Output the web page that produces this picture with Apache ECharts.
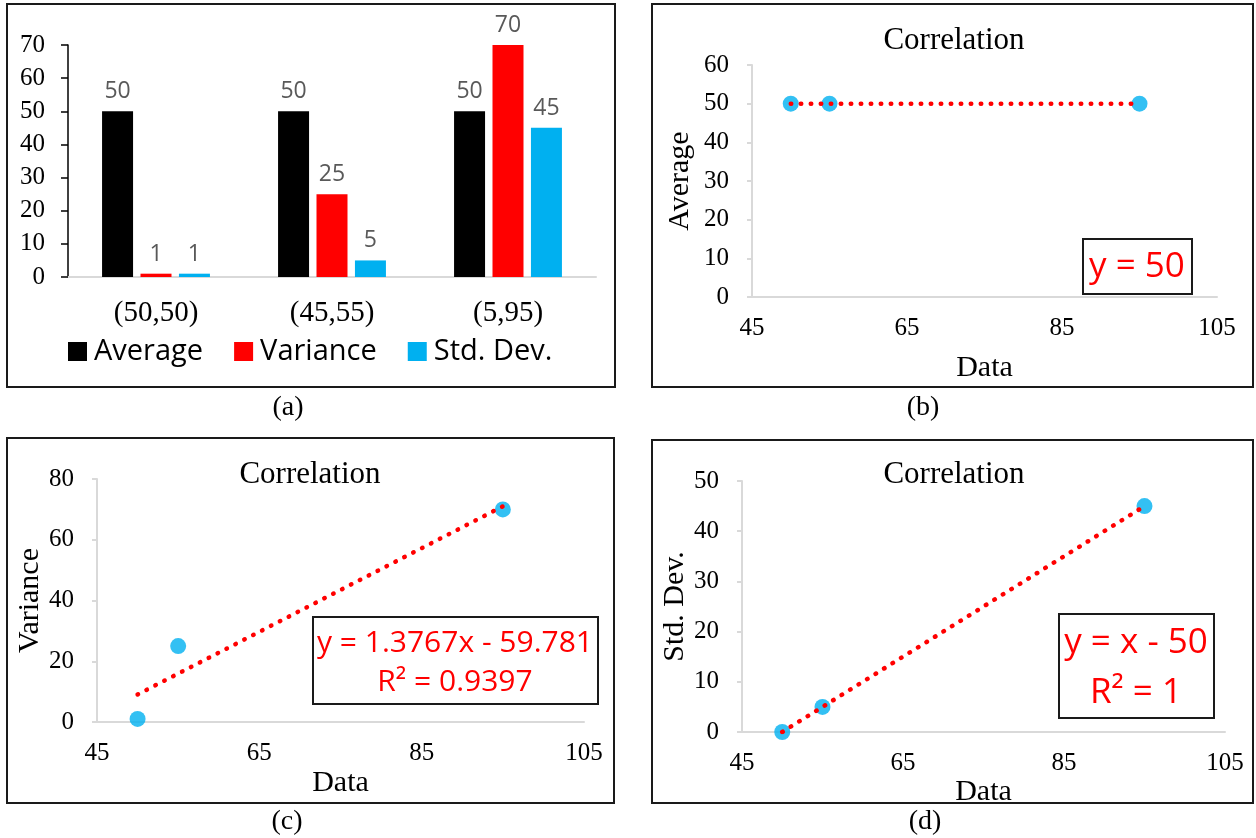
<!DOCTYPE html>
<html>
<head>
<meta charset="utf-8">
<script src="https://cdn.jsdelivr.net/npm/echarts@6/dist/echarts.min.js"></script>
<style>
html,body{margin:0;padding:0;background:#fff;}
#c{width:1256px;height:838px;}
</style>
</head>
<body>
<div id="c"></div>
<script>
// ---- data ----
const categories = ['(50,50)', '(45,55)', '(5,95)'];
const averageVals = [50, 50, 50];
const varianceVals = [1, 25, 70];
const stdDevVals = [1, 5, 45];

const dataX = [50, 55, 95];
const avgY = [50, 50, 50];
const varY = [1, 25, 70];
const stdY = [0, 5, 45];

const trendAvg = [[50, 50], [95, 50]];
const trendVar = [[50, 9.05], [95, 71.0]];
const trendStd = [[50, 0], [95, 45]];

const eqAvg = ['y = 50'];
const eqVar = ['y = 1.3767x - 59.781', 'R² = 0.9397'];
const eqStd = ['y = x - 50', 'R² = 1'];

// ---- styles ----
const SERIF = '"Liberation Serif", "Times New Roman", serif';
const SANS = '"Open Sans", "Noto Sans", sans-serif';
const BLACK = '#000000', RED = '#FF0000', CYAN = '#00B0F0';
const AXIS_GRAY = '#d9d9d9';

const chart = echarts.init(document.getElementById('c'), null, {renderer: 'canvas'});

function pts(ys) { return dataX.map((x, i) => [x, ys[i]]); }

function scatterX(gi, gap) {
  return {
    gridIndex: gi, type: 'value', min: 45, max: 105, interval: 20,
    name: 'Data', nameLocation: 'middle', nameGap: gap,
    nameTextStyle: {fontFamily: SERIF, fontSize: 30, color: BLACK},
    axisLine: {show: true, onZero: false, lineStyle: {color: AXIS_GRAY, width: 2}},
    axisTick: {show: false},
    splitLine: {show: false},
    axisLabel: {fontFamily: SERIF, fontSize: 25, color: BLACK, margin: 19}
  };
}
function scatterY(gi, name, max, interval, gap) {
  return {
    gridIndex: gi, type: 'value', min: 0, max: max, interval: interval,
    name: name, nameLocation: 'middle', nameGap: gap, nameRotate: 90,
    nameTextStyle: {fontFamily: SERIF, fontSize: 30, color: BLACK},
    axisLine: {show: true, lineStyle: {color: AXIS_GRAY, width: 2}},
    axisTick: {show: true, length: 5, lineStyle: {color: AXIS_GRAY, width: 2}},
    splitLine: {show: false},
    axisLabel: {fontFamily: SERIF, fontSize: 25, color: BLACK, margin: 23}
  };
}
function scatterSeries(idx, ys) {
  return {
    type: 'scatter', xAxisIndex: idx, yAxisIndex: idx, data: pts(ys),
    symbol: 'circle', symbolSize: 16, itemStyle: {color: CYAN}, z: 2, silent: true
  };
}
function trendSeries(idx, d) {
  return {
    type: 'line', xAxisIndex: idx, yAxisIndex: idx, data: d,
    symbol: 'none', z: 3, silent: true,
    lineStyle: {color: RED, width: 4.5, type: [0.5, 9.5], cap: 'round'}
  };
}

function box(x, y, w, h) {
  return {type: 'rect', shape: {x: x, y: y, width: w, height: h},
    style: {fill: 'none', stroke: '#1a1a1a', lineWidth: 2}, silent: true};
}
function txt(text, x, y, font, size, color) {
  return {type: 'text', x: x, y: y, silent: true,
    style: {text: text, font: size + 'px ' + font, fill: color, align: 'center', verticalAlign: 'middle'}};
}

const option = {
  backgroundColor: '#ffffff',
  animation: false,
  title: [
    {text: 'Correlation', left: 954, top: 25, textAlign: 'center', padding: 0,
     textStyle: {fontFamily: SERIF, fontSize: 31, fontWeight: 'normal', color: BLACK}},
    {text: 'Correlation', left: 310, top: 459, textAlign: 'center', padding: 0,
     textStyle: {fontFamily: SERIF, fontSize: 31, fontWeight: 'normal', color: BLACK}},
    {text: 'Correlation', left: 954, top: 459, textAlign: 'center', padding: 0,
     textStyle: {fontFamily: SERIF, fontSize: 31, fontWeight: 'normal', color: BLACK}}
  ],
  legend: {
    data: ['Average', 'Variance', 'Std. Dev.'],
    left: 68, top: 337, itemWidth: 19, itemHeight: 19, itemGap: 31,
    icon: 'rect', padding: 0,
    textStyle: {fontFamily: SANS, fontSize: 29, color: BLACK, padding: [0, 0, 0, 2]}
  },
  grid: [
    {left: 68, top: 45, width: 528, height: 232, outerBoundsMode: 'none', containLabel: false},
    {left: 752, top: 65, width: 465, height: 232, outerBoundsMode: 'none', containLabel: false},
    {left: 97, top: 479, width: 487, height: 243, outerBoundsMode: 'none', containLabel: false},
    {left: 742, top: 481, width: 483, height: 251, outerBoundsMode: 'none', containLabel: false}
  ],
  xAxis: [
    {gridIndex: 0, type: 'category', data: categories,
     axisLine: {show: true, lineStyle: {color: AXIS_GRAY, width: 2}},
     axisTick: {show: false}, splitLine: {show: false},
     axisLabel: {fontFamily: SERIF, fontSize: 29, color: BLACK, margin: 22}},
    scatterX(1, 56),
    scatterX(2, 46),
    scatterX(3, 38)
  ],
  yAxis: [
    {gridIndex: 0, type: 'value', min: 0, max: 70, interval: 10,
     axisLine: {show: true, lineStyle: {color: BLACK, width: 1.5}},
     axisTick: {show: true, length: 7, lineStyle: {color: BLACK, width: 1.5}},
     splitLine: {show: false},
     axisLabel: {fontFamily: SERIF, fontSize: 25, color: BLACK, margin: 23}},
    scatterY(1, 'Average', 60, 10, 57),
    scatterY(2, 'Variance', 80, 20, 51),
    scatterY(3, 'Std. Dev.', 50, 10, 51)
  ],
  series: [
    {name: 'Average', type: 'bar', xAxisIndex: 0, yAxisIndex: 0, data: averageVals,
     barWidth: 31, barGap: '24%', itemStyle: {color: BLACK},
     label: {show: true, position: 'top', distance: 8, color: '#595959', fontFamily: SANS, fontSize: 23}},
    {name: 'Variance', type: 'bar', xAxisIndex: 0, yAxisIndex: 0, data: varianceVals,
     barWidth: 31, barGap: '24%', itemStyle: {color: RED},
     label: {show: true, position: 'top', distance: 8, color: '#595959', fontFamily: SANS, fontSize: 23}},
    {name: 'Std. Dev.', type: 'bar', xAxisIndex: 0, yAxisIndex: 0, data: stdDevVals,
     barWidth: 31, barGap: '24%', itemStyle: {color: CYAN},
     label: {show: true, position: 'top', distance: 8, color: '#595959', fontFamily: SANS, fontSize: 23}},
    scatterSeries(1, avgY), trendSeries(1, trendAvg),
    scatterSeries(2, varY), trendSeries(2, trendVar),
    scatterSeries(3, stdY), trendSeries(3, trendStd)
  ],
  graphic: [
    box(7, 4, 608, 383),
    box(652, 4, 601, 383),
    box(7, 438, 607, 365),
    box(652, 440, 601, 363),
    box(1083, 239, 109, 55),
    box(313, 617, 285, 87),
    box(1059, 614, 155, 104),
    txt(eqAvg[0], 1137, 267, SANS, 35, RED),
    txt(eqVar[0], 455, 643, SANS, 30, RED),
    txt(eqVar[1], 455, 682, SANS, 30, RED),
    txt(eqStd[0], 1136, 643, SANS, 35, RED),
    txt(eqStd[1], 1136, 693, SANS, 35, RED),
    txt('(a)', 288, 408, SERIF, 28, BLACK),
    txt('(b)', 923, 408, SERIF, 28, BLACK),
    txt('(c)', 287, 822, SERIF, 28, BLACK),
    txt('(d)', 925, 822, SERIF, 28, BLACK)
  ]
};
chart.setOption(option);
</script>
</body>
</html>
